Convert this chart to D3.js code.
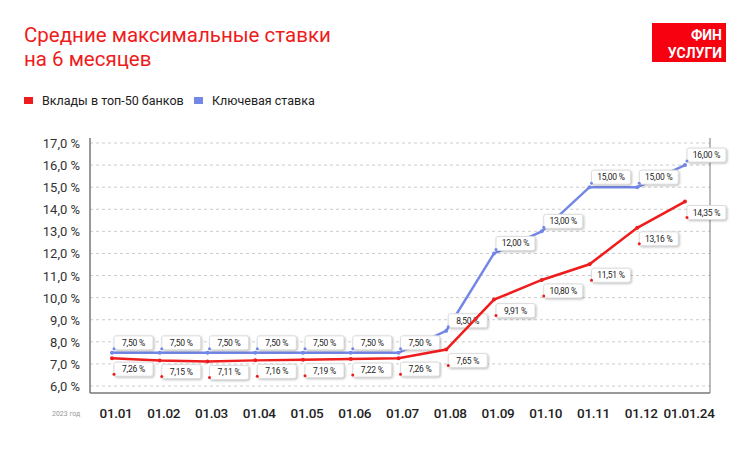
<!DOCTYPE html>
<html><head><meta charset="utf-8">
<script src="https://cdn.jsdelivr.net/npm/d3@7.9.0/dist/d3.min.js"></script>
<style>
body{margin:0;background:#fff;font-family:Roboto,"Noto Sans",sans-serif;}
</style></head><body>
<svg id="chart" width="750" height="456"></svg>
<script>
const months = ['01.01','01.02','01.03','01.04','01.05','01.06','01.07','01.08','01.09','01.10','01.11','01.12','01.01.24'];
const deposits = [7.26,7.15,7.11,7.16,7.19,7.22,7.26,7.65,9.91,10.80,11.51,13.16,14.35];
const keyRate = [7.50,7.50,7.50,7.50,7.50,7.50,7.50,8.50,12.00,13.00,15.00,15.00,16.00];
const yTicks = d3.range(6, 17.5, 1);

const svg = d3.select('#chart');
const red = '#ee1c1c', blue = '#7387e6';
const x = d3.scalePoint().domain(months).range([112, 685]);
const y = d3.scaleLinear().domain([6, 17]).range([386, 143]);
const fmt = (v) => v.toFixed(2).replace('.', ',') + ' %';

// title
svg.append('text').attr('x', 24).attr('y', 42).attr('fill', red).attr('font-size', 20.5).text('Средние максимальные ставки');
svg.append('text').attr('x', 24).attr('y', 66).attr('fill', red).attr('font-size', 20.5).text('на 6 месяцев');

// logo
svg.append('rect').attr('x', 652).attr('y', 23).attr('width', 74).attr('height', 39).attr('fill', '#f7000f');
svg.append('text').attr('x', 722).attr('y', 40).attr('text-anchor', 'end').attr('fill', '#fff').attr('font-size', 14).attr('font-weight', 700).text('ФИН');
svg.append('text').attr('x', 722).attr('y', 58).attr('text-anchor', 'end').attr('fill', '#fff').attr('font-size', 14).attr('font-weight', 700).text('УСЛУГИ');

// legend
[[24, red, 'Вклады в топ-50 банков'], [194, blue, 'Ключевая ставка']].forEach(([lx, c, t]) => {
  svg.append('rect').attr('x', lx).attr('y', 97).attr('width', 9).attr('height', 7).attr('fill', c);
  svg.append('text').attr('x', lx + 18).attr('y', 105).attr('font-size', 12.5).attr('fill', '#222').text(t);
});

// gridlines
svg.append('g').selectAll('line').data(yTicks).join('line')
  .attr('x1', 90).attr('x2', 710).attr('y1', (d) => y(d)).attr('y2', (d) => y(d))
  .attr('stroke', '#ccc').attr('stroke-dasharray', '3,3');
svg.append('g').selectAll('text').data(yTicks).join('text')
  .attr('x', 80).attr('y', (d) => y(d) + 5).attr('text-anchor', 'end').attr('font-size', 13).attr('fill', '#333')
  .text((d) => d.toFixed(1).replace('.', ',') + ' %');

svg.append('line').attr('x1', 90).attr('x2', 90).attr('y1', 138).attr('y2', 393).attr('stroke', '#777').attr('stroke-width', 1.5);
svg.append('line').attr('x1', 90).attr('x2', 710).attr('y1', 393).attr('y2', 393).attr('stroke', '#777').attr('stroke-width', 1.5);
svg.append('line').attr('x1', 710).attr('x2', 710).attr('y1', 138).attr('y2', 393).attr('stroke', '#777').attr('stroke-width', 1);

svg.append('g').selectAll('text').data(months).join('text')
  .attr('x', (d) => x(d) + 4).attr('y', 418).attr('text-anchor', 'middle').attr('font-size', 13.5).attr('font-weight', 500).attr('fill', '#222')
  .attr('letter-spacing', -0.3).text((d) => d);
svg.append('text').attr('x', 52).attr('y', 416).attr('font-size', 7).attr('fill', '#999').text('2023 год');

const line = d3.line().x((d, i) => x(months[i])).y((d) => y(d));
[[keyRate, blue, -17], [deposits, red, 4]].forEach(([vals, c, dy]) => {
  svg.append('path').datum(vals).attr('d', line).attr('fill', 'none').attr('stroke', c).attr('stroke-width', 2.5);
  svg.append('g').selectAll('circle').data(vals).join('circle')
    .attr('cx', (d, i) => x(months[i])).attr('cy', (d) => y(d)).attr('r', 2).attr('fill', c);
  const g = svg.append('g').selectAll('g').data(vals).join('g')
    .attr('transform', (d, i) => `translate(${x(months[i]) + 2},${y(d) + dy})`);
  g.append('rect').attr('width', 39).attr('height', 14).attr('rx', 2).attr('fill', '#fff')
    .attr('stroke', '#ddd').style('filter', 'drop-shadow(1px 1px 1px rgba(0,0,0,0.25))');
  g.append('text').attr('x', 19.5).attr('y', 10).attr('text-anchor', 'middle').attr('font-size', 8.5).attr('fill', '#222')
    .attr('letter-spacing', -0.2).text((d) => fmt(d));
  g.append('circle').attr('cx', 0).attr('cy', dy < 0 ? 13 : 12).attr('r', 1.5).attr('fill', c);
});
</script></body></html>
